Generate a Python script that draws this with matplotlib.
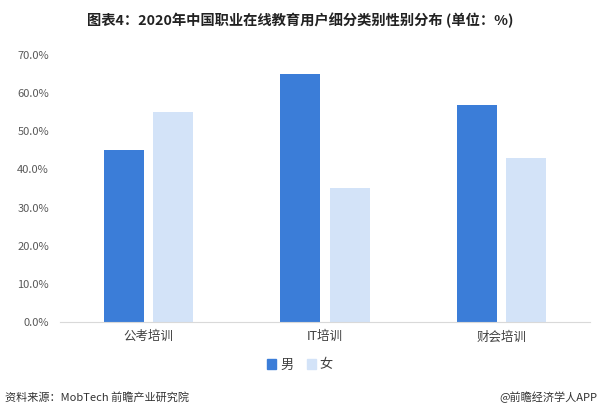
import matplotlib
matplotlib.use("Agg")
import matplotlib.pyplot as plt
import numpy as np
from matplotlib.patches import Patch

plt.rcParams['font.family'] = ['Noto Sans CJK SC', 'DejaVu Sans']

categories = ["公考培训", "IT培训", "财会培训"]
male = [45, 65, 57]
female = [55, 35, 43]
yticks = [0, 10, 20, 30, 40, 50, 60, 70]
series_names = ["男", "女"]
title = "图表4：2020年中国职业在线教育用户细分类别性别分布 (单位：%)"
source = "资料来源：MobTech 前瞻产业研究院"
credit = "@前瞻经济学人APP"

c_male = "#3b7dd8"
c_female = "#d3e3f8"

fig = plt.figure(figsize=(6.0, 4.13), dpi=100)
ax = fig.add_axes([0.1, 0.2203, 0.883, 0.6467])

x = np.arange(len(categories))
w = 0.227
ax.bar(x - 0.14, male, width=w, color=c_male)
ax.bar(x + 0.14, female, width=w, color=c_female)

ax.set_xlim(-0.5, len(categories) - 0.5)
ax.set_ylim(0, 70)
ax.set_yticks(yticks)
ax.set_yticklabels([f"{v:.1f}%" for v in yticks], fontsize=8, color="#595959")
ax.set_xticks(x)
ax.set_xticklabels(categories, fontsize=9, color="#404040")
ax.tick_params(axis='both', length=0)
ax.tick_params(axis='y', pad=8)
ax.tick_params(axis='x', pad=6)
for s in ["top", "right", "left"]:
    ax.spines[s].set_visible(False)
ax.spines["bottom"].set_color("#d9d9d9")
ax.spines["bottom"].set_linewidth(0.8)

handles = [Patch(color=c_male), Patch(color=c_female)]
fig.legend(handles, series_names, loc="center", bbox_to_anchor=(0.5, 1 - 365 / 413),
           ncol=2, frameon=False, fontsize=9.5, handlelength=0.7, handleheight=0.7,
           handletextpad=0.3, columnspacing=1.0, labelcolor="#404040")

fig.text(0.5, 1 - 20 / 413, title, ha="center", va="center", fontsize=10.3,
         fontweight="bold", color="#222222")
fig.text(0.008, 1 - 397 / 413, source, ha="left", va="center", fontsize=8, color="#333333")
fig.text(0.995, 1 - 397 / 413, credit, ha="right", va="center", fontsize=8, color="#333333")

fig.savefig("out.png", dpi=100)
